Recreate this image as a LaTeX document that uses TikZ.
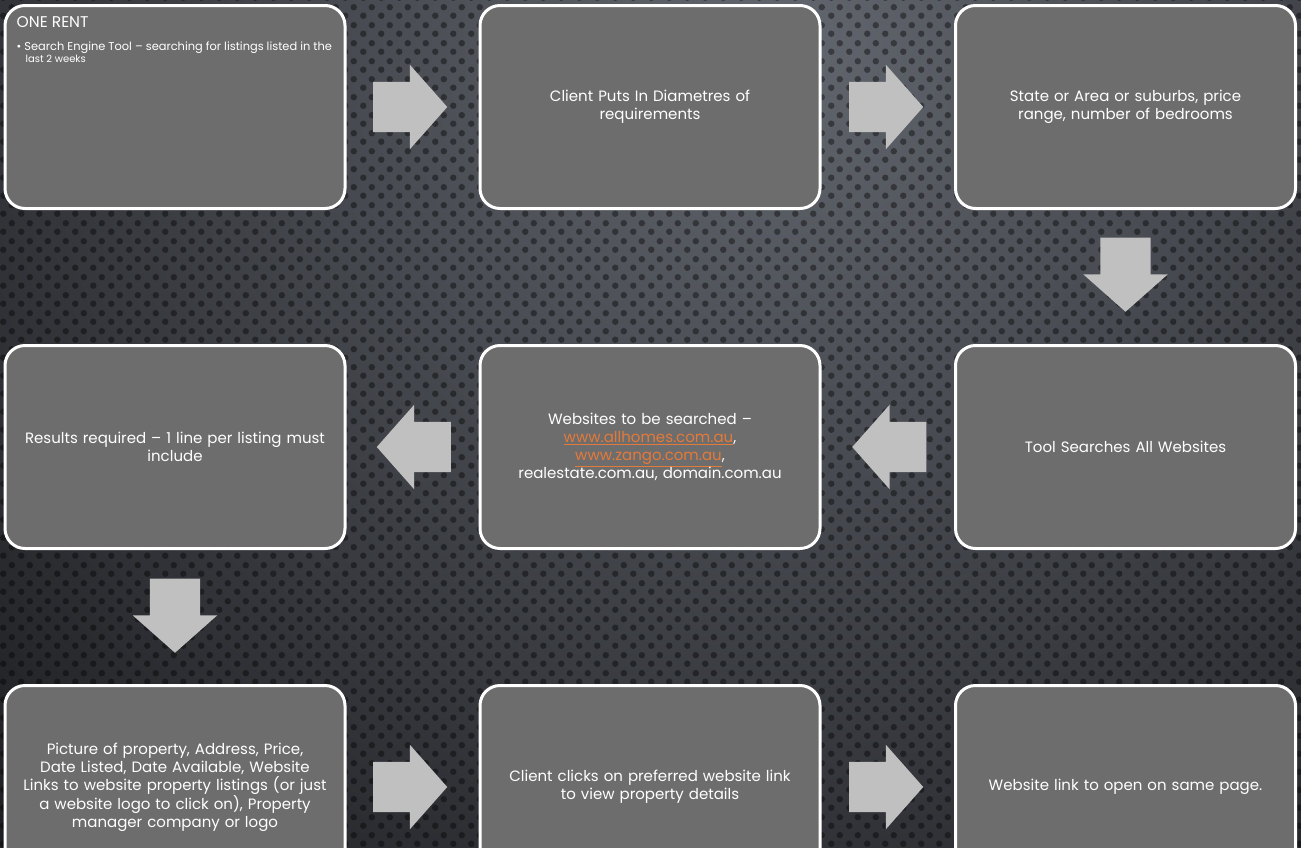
\documentclass[tikz,border=0pt]{standalone}
\usepackage{fontspec}
\setmainfont{Poppins}
\usetikzlibrary{shapes.arrows,calc,patterns}
\definecolor{boxgray}{RGB}{109,109,109}
\definecolor{arrowgray}{RGB}{192,192,192}
\definecolor{linkorange}{RGB}{228,122,58}
\definecolor{bgtop}{RGB}{98,102,110}
\definecolor{bgbottom}{RGB}{24,25,28}
\newcommand{\weblink}[1]{\textcolor{linkorange}{\underline{#1}}}
\pgfdeclarepatternformonly{perfdots}{\pgfpointorigin}{\pgfpoint{18pt}{18pt}}{\pgfpoint{18pt}{18pt}}{%
    \pgfpathcircle{\pgfpoint{4.5pt}{4.5pt}}{3.4pt}%
    \pgfpathcircle{\pgfpoint{13.5pt}{13.5pt}}{3.4pt}%
    \pgfusepath{fill}}
\begin{document}
\begin{tikzpicture}[x=1pt, y=-1pt,
    stepbox/.style={draw=white, line width=3pt, fill=boxgray, rounded corners=20pt,
        minimum width=340pt, minimum height=203pt, text width=320pt, align=center,
        text=white, font=\fontsize{15}{18}\selectfont},
    blockarrow/.style={single arrow, fill=arrowgray, draw=none, inner sep=25pt,
        minimum width=84pt, minimum height=74pt, single arrow head extend=17pt,
        single arrow tip angle=97, anchor=tip}]
    \clip (0,0) rectangle (1301,847);
    \useasboundingbox (0,0) rectangle (1301,847);
    % background with perforated dots
    \shade[inner color=bgtop, outer color=bgbottom] (780,40) circle (1200);
    \fill[pattern=perfdots, pattern color=black, fill opacity=0.4] (0,0) rectangle (1301,847);
    % row 1
    \node[stepbox] (rent) at (175,107) {};
    \node[stepbox] (client) at (650,107) {Client Puts In Diametres of\\requirements};
    \node[stepbox] (state) at (1125.5,107) {State or Area or suburbs, price\\range, number of bedrooms};
    \node[anchor=north west, text=white, align=left, inner sep=0pt] (title) at ($(rent.north west)+(13,12)$)
        {\fontsize{15.5}{17}\selectfont ONE RENT\\[11pt]
         \fontsize{11.4}{13.5}\selectfont\textbullet\ Search Engine Tool -- searching for listings listed in the\\
         \hspace*{9pt}last 2 weeks};
    % row 2
    \node[stepbox] (results) at (175,447) {Results required -- 1 line per listing must\\include};
    \node[stepbox] (sites) at (650,447) {Websites to be searched --\\\weblink{www.allhomes.com.au},\\
        \weblink{www.zango.com.au},\\realestate.com.au, domain.com.au};
    \node[stepbox] (tool) at (1125.5,447) {Tool Searches All Websites};
    % row 3
    \node[stepbox] (picture) at (175,787) {Picture of property, Address, Price,\\Date Listed, Date Available, Website\\
        Links to website property listings (or just\\a website logo to click on), Property\\manager company or logo};
    \node[stepbox] (clicks) at (650,787) {Client clicks on preferred website link\\to view property details};
    \node[stepbox] (open) at (1125.5,787) {Website link to open on same page.};
    % block arrows
    \node[blockarrow] (a1) at ($(rent.east)+(101,0)$) {};
    \node[blockarrow] (a2) at ($(client.east)+(102,0)$) {};
    \node[blockarrow, shape border rotate=270] (a3) at ($(state.south)+(0,102)$) {};
    \node[blockarrow, shape border rotate=180] (a4) at ($(tool.west)+(-102,0)$) {};
    \node[blockarrow, shape border rotate=180] (a5) at ($(sites.west)+(-102,0)$) {};
    \node[blockarrow, shape border rotate=270] (a6) at ($(results.south)+(0,103)$) {};
    \node[blockarrow] (a7) at ($(picture.east)+(101,0)$) {};
    \node[blockarrow] (a8) at ($(clicks.east)+(102,0)$) {};
\end{tikzpicture}
\end{document}
